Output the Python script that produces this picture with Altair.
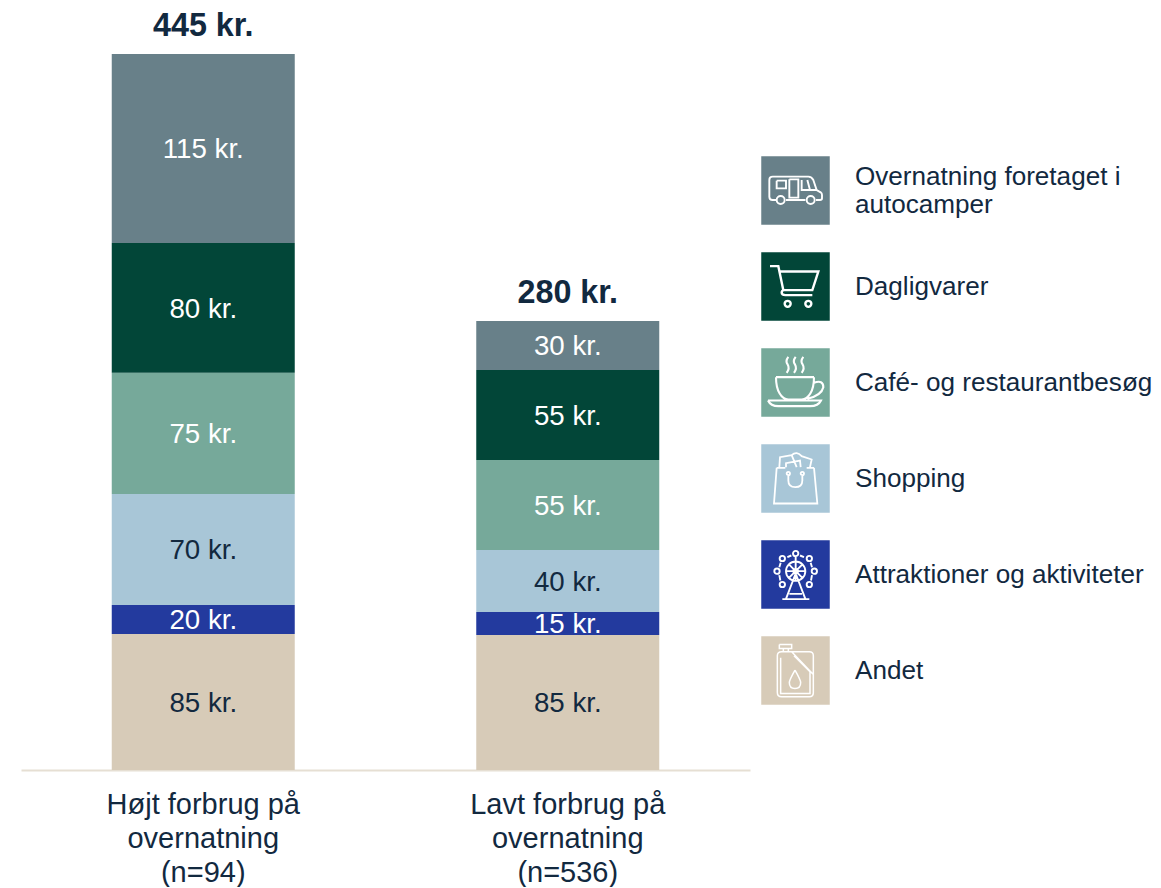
import re
import altair as alt
import pandas as pd

groups = ["Højt forbrug på|overnatning|(n=94)", "Lavt forbrug på|overnatning|(n=536)"]
categories = ["Andet", "Attraktioner og aktiviteter", "Shopping",
              "Café- og restaurantbesøg", "Dagligvarer", "Overnatning foretaget i|autocamper"]
colors = ["#D7CBB8", "#233A9E", "#A8C6D7", "#76A99A", "#024638", "#688089"]
label_colors = ["#12293F", "#FFFFFF", "#12293F", "#FFFFFF", "#FFFFFF", "#FFFFFF"]
icon_strokes = [1.5, 1.9, 1.8, 2.1, 2.4, 1.9]
values_high = [84.5, 18, 69, 75.2, 80.7, 117.4]
values_low = [83.9, 14.3, 38.5, 55.9, 55.9, 30.4]
labels_high = ["85 kr.", "20 kr.", "70 kr.", "75 kr.", "80 kr.", "115 kr."]
labels_low = ["85 kr.", "15 kr.", "40 kr.", "55 kr.", "55 kr.", "30 kr."]
totals = ["445 kr.", "280 kr."]
TEXT = "#12293F"
FONT = "Liberation Sans"


def rel(cx, cy, d):
    return re.sub(r"(-?[\d.]+),(-?[\d.]+)",
                  lambda m: f"{float(m[1]) - cx:.1f},{float(m[2]) - cy:.1f}", d)


def circ(x, y, r):
    return f"M{x - r},{y} A{r} {r} 0 1 0 {x + r},{y} A{r} {r} 0 1 0 {x - r},{y} "


camper = rel(136.5, 136.5,
    "M78,165 L68,165 Q58,165 58,155 L58,105 Q58,95 68,95 L175,95 Q185,95 190,105 L200,135 L212,142 Q216,145 216,150 "
    "L216,160 Q216,165 210,165 L198,165 M166,165 L108,165 "
    "M80,107 L108,107 L108,130 L80,130 L80,107 M118,103 L145,103 L145,158 L118,158 L118,103 "
    "M155,105 L155,135 L200,135 M172,105 L180,135 "
    + circ(92, 165, 12) + circ(182, 165, 12))
cart = rel(136.5, 426,
    "M60,365 L85,365 L100,437 M88,381 L205,381 L187,437 L100,437 M187,452 L106,452 Q95,452 95,445 Q95,437 103,437 "
    + circ(113, 478, 9) + circ(175, 478, 9))
cup = rel(136.5, 714,
    "M78,698 L192,698 M78,698 C78,740 95,765 115,765 L155,765 C175,765 192,740 192,698 "
    "M192,715 Q220,705 220,728 Q215,752 172,763 "
    "M54,768 L213,768 Q205,785 180,785 L85,785 Q62,785 54,768 "
    "M115,637 Q105,650 113,660 Q120,672 110,685 M137,637 Q127,650 135,660 Q142,672 132,685 M160,637 Q150,650 158,660 Q165,672 155,685")
bag = rel(136.5, 132,
    "M80,100 L72,207 L202,207 L192,100 M80,100 L106,100 M170,100 L192,100 "
    "M88,98 L90,68 L125,62 Q140,48 155,65 L185,75 L180,98 M108,98 L108,86 L150,78 L152,98 M125,62 L140,98 "
    "M115,122 L115,138 Q115,158 136,158 Q157,158 157,138 L157,122 "
    + circ(115, 117, 5) + circ(157, 117, 5))
ferris = rel(136.5, 420,
    circ(137, 410, 29) + circ(137, 410, 7) + circ(137, 357, 8)
    + circ(97, 372, 8) + circ(178, 372, 8) + circ(81, 410, 8) + circ(193, 410, 8)
    + circ(97, 450, 8) + circ(178, 450, 8)
    + "M137,365 L137,439 M108,410 L166,410 M116,389 L158,431 M158,389 L116,431 "
    "M137,417 L108,493 M137,417 L166,493 M97,494 L178,494 M118,478 L156,478 "
    "M112,368 L124,363 M150,363 L162,368 M92,385 L88,398 M182,385 L186,398 M88,422 L91,438 M186,422 L183,438")
can = rel(136.5, 706,
    "M88,628 L125,628 L125,640 L88,640 L88,628 M100,640 L100,650 M115,640 L115,650 "
    "M125,650 L178,650 Q190,650 190,662 L190,772 Q190,785 178,785 L95,785 Q82,785 82,772 L82,662 Q82,650 95,650 L125,650 "
    "M92,668 L92,775 L180,775 L180,710 L132,662 M125,650 L190,718 "
    "M135,705 Q118,735 118,742 Q118,760 135,760 Q152,760 152,742 Q152,735 135,705")
icons = [can, ferris, bag, cup, cart, camper]

rows = []
for g, vals, labs in [(groups[0], values_high, labels_high), (groups[1], values_low, labels_low)]:
    for i, (c, v, l) in enumerate(zip(categories, vals, labs)):
        rows.append({"group": g, "cat": c, "order": i, "value": v, "label": l, "lc": label_colors[i]})
df = pd.DataFrame(rows)
tot = pd.DataFrame({"group": groups, "top": [sum(values_high), sum(values_low)], "label": totals})

xenc = alt.X("group:N", sort=groups, title=None,
             scale=alt.Scale(paddingInner=0.498, paddingOuter=0.249),
             axis=alt.Axis(labelExpr="split(datum.label,'|')", labelAngle=0, labelFont=FONT, labelFontSize=29,
                           labelColor=TEXT, labelLineHeight=34, labelPadding=20, labelLimit=400, ticks=False,
                           domainColor="#E6DFD3", domainWidth=2, grid=False))
yscale = alt.Scale(domain=[0, 473.3], nice=False, zero=True)

base = alt.Chart(df).transform_stack(stack="value", groupby=["group"], sort=[alt.SortField("order")],
                                     as_=["y0", "y1"]).transform_calculate(mid="(datum.y0+datum.y1)/2")
bars = base.mark_bar(size=183).encode(
    x=xenc,
    y=alt.Y("y0:Q", scale=yscale, axis=None, title=None),
    y2="y1:Q",
    color=alt.Color("cat:N", scale=alt.Scale(domain=categories, range=colors), legend=None),
)
seg = base.mark_text(font=FONT, fontSize=27.7, dy=2).encode(
    x=xenc, y=alt.Y("mid:Q", scale=yscale, axis=None),
    text="label:N", color=alt.Color("lc:N", scale=None))
top = alt.Chart(tot).mark_text(font=FONT, fontSize=32.3, fontWeight="bold", color=TEXT, dy=-28).encode(
    x=xenc, y=alt.Y("top:Q", scale=yscale, axis=None), text="label:N")
left = alt.layer(bars, seg, top).properties(width=729, height=762)

leg = pd.DataFrame({"cat": categories, "color": colors, "icon": icons, "sw": icon_strokes})
yleg = alt.Y("cat:N", sort=categories[::-1], axis=None, title=None,
             scale=alt.Scale(range=[134.5, 710.5], paddingInner=0, paddingOuter=0))
lbase = alt.Chart(leg).transform_calculate(lines="split(datum.cat,'|')", two="indexof(datum.cat,'|')>=0")
sq = lbase.mark_square(size=68.5 ** 2, opacity=1).encode(
    x=alt.value(34.5), y=yleg, color=alt.Color("color:N", scale=None))
ic = lbase.mark_point(filled=False, stroke="white", opacity=1, size=4 / 9).encode(
    x=alt.value(34.5), y=yleg, shape=alt.Shape("icon:N", scale=None, legend=None),
    strokeWidth=alt.StrokeWidth("sw:Q", scale=None, legend=None))
txt1 = lbase.transform_filter("!datum.two").mark_text(font=FONT, fontSize=26.1, color=TEXT, align="left").encode(
    x=alt.value(94), y=yleg, text="lines:N")
txt2 = lbase.transform_filter("datum.two").mark_text(font=FONT, fontSize=26.1, color=TEXT, align="left",
                                                     lineHeight=28, dy=-14).encode(
    x=alt.value(94), y=yleg, text="lines:N")
right = alt.layer(sq, ic, txt1, txt2).properties(width=380, height=762)

chart = alt.hconcat(left, right, spacing=11, padding={"left": 13, "top": 0, "right": 0, "bottom": 0},
                    bounds="flush").configure_view(stroke=None).resolve_scale(color="independent")
chart.save("out.html", embed_options={"renderer": "svg", "actions": False})
